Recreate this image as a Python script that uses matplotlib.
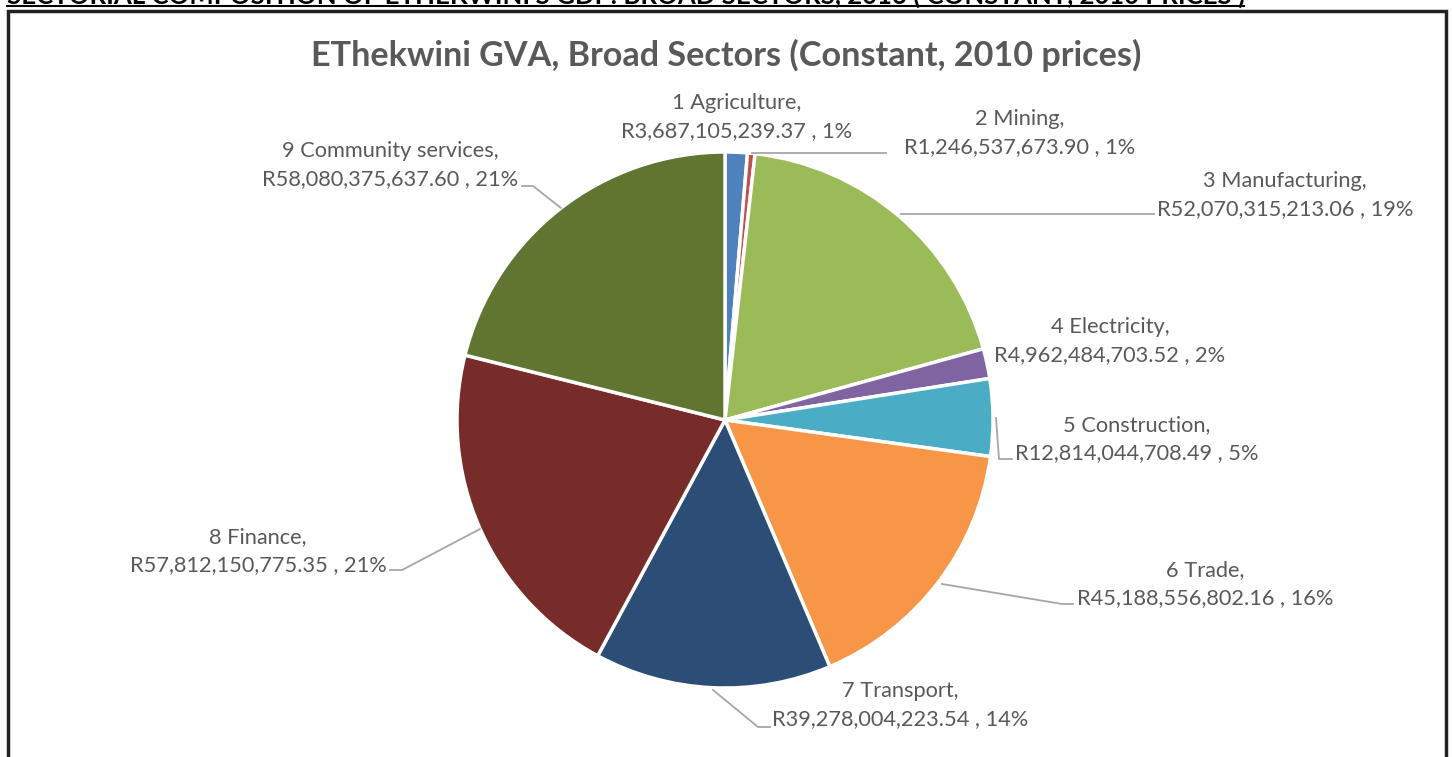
import matplotlib.pyplot as plt
import numpy as np

# eThekwini gross value added by broad sector, constant 2010 prices (Rand)
sectors = ['1 Agriculture', '2 Mining', '3 Manufacturing', '4 Electricity',
           '5 Construction', '6 Trade', '7 Transport', '8 Finance',
           '9 Community services']
gva = [3687105239.37, 1246537673.90, 52070315213.06, 4962484703.52,
       12814044708.49, 45188556802.16, 39278004223.54, 57812150775.35,
       58080375637.60]
colors = ['#4F81BD', '#C0504D', '#9BBB59', '#8064A2', '#4BACC6',
          '#F79646', '#2C4D75', '#772C2A', '#5F7530']


def rounded_percents(vals):
    # whole-number shares that still add up to 100 (largest remainder)
    raw = np.array(vals) / np.sum(vals) * 100
    base = np.floor(raw).astype(int)
    left = 100 - base.sum()
    order = np.argsort(-(raw - base))
    base[order[:left]] += 1
    return base


pct = rounded_percents(gva)

W, H = 1452, 757
fig = plt.figure(figsize=(W / 100, H / 100), dpi=100)
ax = fig.add_axes([0, 0, 1, 1])

# y runs downward so the layout can be given in pixels
cx, cy, r = 725, 420, 268
ax.pie(gva, colors=colors, startangle=-90, counterclock=True,
       center=(cx, cy), radius=r,
       wedgeprops=dict(edgecolor='white', linewidth=2.5))
ax.set_xlim(0, W)
ax.set_ylim(H, 0)
ax.set_aspect('auto')
ax.axis('off')

grey = '#595959'
font = 'Lato'

# document heading above the chart frame, mostly cut off
ax.text(7, 3.5, "SECTORIAL COMPOSITION OF ETHEKWINI'S GDP: BROAD SECTORS, 2016 ( CONSTANT, 2010 PRICES )",
        ha='left', va='baseline', fontsize=18.5, fontweight='bold',
        family=font, color='black')
ax.plot([7, 1244], [6, 6], color='black', lw=1.5)

# chart frame
ax.plot([7.5, 7.5, 1445.5, 1445.5], [H + 5, 10.5, 10.5, H + 5],
        color='#222222', lw=2.5, solid_joinstyle='miter')

ax.text(726, 55, 'EThekwini GVA, Broad Sectors (Constant, 2010 prices)',
        ha='center', va='center', fontsize=24.6, fontweight='bold',
        family=font, color=grey)

label_pos = [(737, 117), (1020, 133), (1285, 195), (1110, 341),
             (1137, 439), (1205, 584), (900, 705), (258, 551), (390, 165)]
leaders = {
    1: [(752, 153), (886, 153)],
    2: [(901, 214), (1154, 214)],
    4: [(996, 418), (999, 459), (1012, 459)],
    5: [(942, 584), (1062, 604), (1073, 604)],
    6: [(713, 690), (758, 727), (770, 727)],
    7: [(480, 529), (402, 570), (390, 570)],
    8: [(561, 208), (533, 186), (522, 186)],
}

for i, (name, v, p) in enumerate(zip(sectors, gva, pct)):
    x, y = label_pos[i]
    ax.text(x, y, f'{name},\nR{v:,.2f} , {p}%', ha='center', va='center',
            fontsize=15.7, family=font, color=grey, linespacing=1.55)
    if i in leaders:
        xs, ys = zip(*leaders[i])
        ax.plot(xs, ys, color='#A6A6A6', lw=1.3)

fig.savefig('out.png', dpi=100)
